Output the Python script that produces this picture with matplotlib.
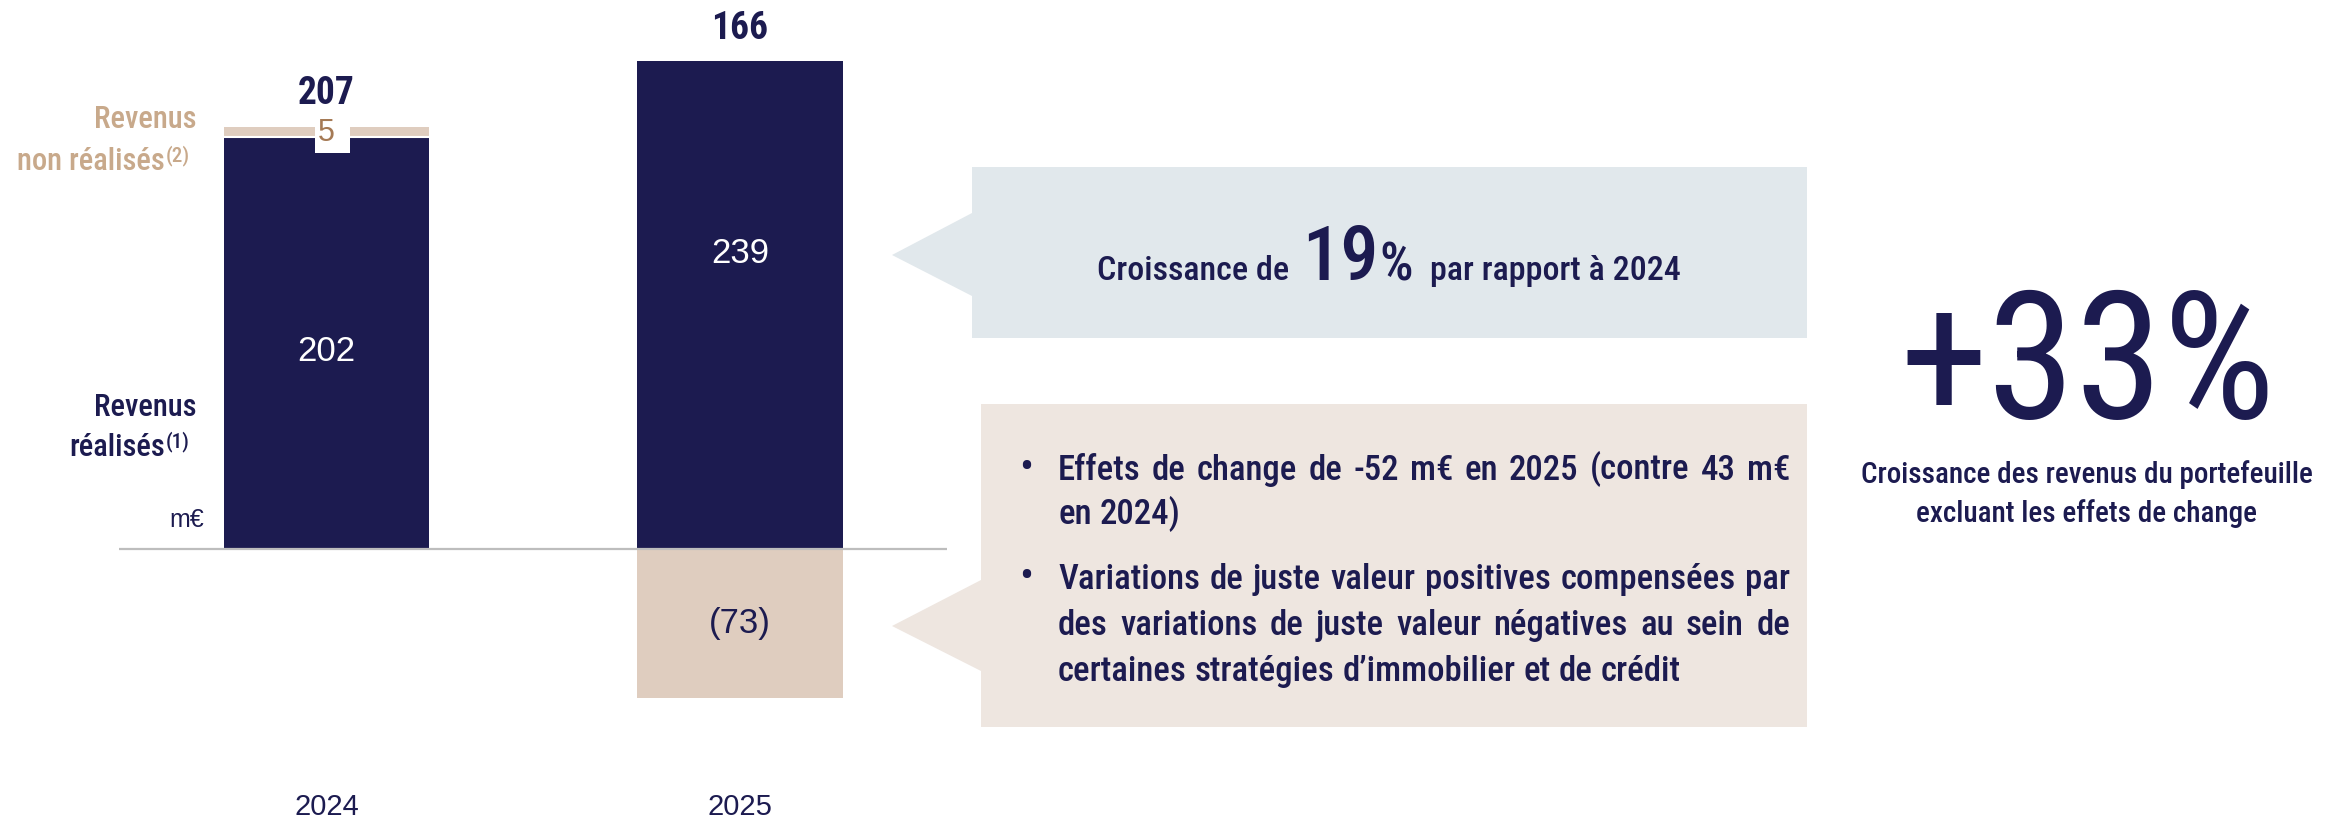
import matplotlib
matplotlib.use("Agg")
from matplotlib import pyplot as plt
from matplotlib.patches import Polygon, Rectangle

#~~~~~~~~~~~~~~~~~~~~~~~~~~~~~~~~~~~~~~~~~~~~~~~~~~~~~~~
# data (m€)
#~~~~~~~~~~~~~~~~~~~~~~~~~~~~~~~~~~~~~~~~~~~~~~~~~~~~~~~
years = ["2024", "2025"]
realized = [202, 239]
unrealized = [5, -73]
totals = [207, 166]

growth_vs_prev = "19"
growth_ex_fx = "+33%"
bullets = [
    ["Effets de change de -52 m€ en 2025 (contre 43 m€", "en 2024)"],
    ["Variations de juste valeur positives compensées par",
     "des variations de juste valeur négatives au sein de",
     "certaines stratégies d’immobilier et de crédit"],
]

#~~~~~~~~~~~~~~~~~~~~~~~~~~~~~~~~~~~~~~~~~~~~~~~~~~~~~~~
# style
#~~~~~~~~~~~~~~~~~~~~~~~~~~~~~~~~~~~~~~~~~~~~~~~~~~~~~~~
W, H = 2338, 821
NAVY = "#1c1b50"
TAN = "#dfcdbf"
TAN_TXT = "#c8a98b"
BROWN = "#a57a55"
BLUE_BOX = "#e1e8ec"
BEIGE_BOX = "#eee6e0"
COND = ["Roboto Condensed", "DejaVu Sans"]
SANS = ["Liberation Sans", "DejaVu Sans"]

fig = plt.figure(figsize=(W / 100, H / 100), dpi=100)
r = fig.canvas.get_renderer()


def fp(x, y):
    # pixel (from top-left) -> figure fraction
    return x / W, 1 - y / H


def ftext(x, y, s, **kw):
    fx, fy = fp(x, y)
    return fig.text(fx, fy, s, **kw)


def width(t):
    return t.get_window_extent(r).width


# axes: baseline at y=549 px, 2.04 px per m€, bars 413.5 px apart
ax_bottom = 790
ax = fig.add_axes([0, (H - ax_bottom) / H, 1, ax_bottom / H])
ax.set_xlim(-326.5 / 413.5, (W - 326.5) / 413.5)
ax.set_ylim(-(ax_bottom - 549) / 2.04, 549 / 2.04)
for s in ax.spines.values():
    s.set_visible(False)
ax.set_yticks([])
ax.set_xticks(range(len(years)), years)
ax.tick_params(axis="x", length=0, pad=2, labelsize=21, labelcolor=NAVY)
for lab in ax.get_xticklabels():
    lab.set_family(SANS)

x = list(range(len(years)))
bw = 0.496
ax.bar(x, realized, width=bw, color=NAVY, zorder=2)
bottoms = [rv if u > 0 else 0 for rv, u in zip(realized, unrealized)]
ax.bar(x, unrealized, width=bw, bottom=bottoms, color=TAN, zorder=2)
for i, u in enumerate(unrealized):
    if u > 0:
        ax.hlines(realized[i], i - bw / 2, i + bw / 2, color="white", lw=1.5, zorder=3)
ax.hlines(0, -0.502, 1.5, color="#bdbdbd", lw=1.6, zorder=4)

# value labels
for i, t in enumerate(totals):
    top = max(realized[i], realized[i] + unrealized[i])
    ax.annotate(str(t), (i, top), xytext=(0, 16), textcoords="offset points",
                ha="center", va="baseline", fontsize=27, fontweight="bold",
                family=COND, color=NAVY)

value_label_y = [97, 145]
for i, v in enumerate(realized):
    ax.text(i, value_label_y[i], str(v), ha="center", va="center",
            fontsize=25, family=SANS, color="white", zorder=5)

for i, u in enumerate(unrealized):
    if u > 0:
        ax.add_patch(Rectangle((i - 0.028, realized[i] - 8), 0.085, u + 8.4,
                               facecolor="white", edgecolor="none", zorder=4))
        ax.text(i, realized[i] + u / 2 - 0.8, str(u), ha="center", va="center",
                fontsize=22, family=SANS, color=BROWN, zorder=5)
    else:
        ax.text(i, u / 2, "(%d)" % -u, ha="center", va="center",
                fontsize=25, family=SANS, color=NAVY, zorder=5)

# series labels on the left
ftext(197, 127.6, "Revenus", ha="right", va="baseline", fontsize=22,
      fontweight="medium", family=COND, color=TAN_TXT)
ftext(165, 170, "non réalisés", ha="right", va="baseline", fontsize=22,
      fontweight="medium", family=COND, color=TAN_TXT)
ftext(166, 161, "(2)", ha="left", va="baseline", fontsize=15,
      fontweight="medium", family=COND, color=TAN_TXT)
ftext(197, 416, "Revenus", ha="right", va="baseline", fontsize=22,
      fontweight="medium", family=COND, color=NAVY)
ftext(165, 456, "réalisés", ha="right", va="baseline", fontsize=22,
      fontweight="medium", family=COND, color=NAVY)
ftext(166, 447, "(1)", ha="left", va="baseline", fontsize=15,
      fontweight="medium", family=COND, color=NAVY)
ftext(204, 527, "m€", ha="right", va="baseline", fontsize=18,
      family=SANS, color=NAVY)

# callout shapes
top_box = [(972, 167), (1807, 167), (1807, 338), (972, 338), (972, 296),
           (892, 255), (972, 213)]
bot_box = [(981, 404), (1807, 404), (1807, 727), (981, 727), (981, 671),
           (892, 626), (981, 580)]
for pts, col in [(top_box, BLUE_BOX), (bot_box, BEIGE_BOX)]:
    fig.patches.append(Polygon([fp(*p) for p in pts], closed=True,
                               transform=fig.transFigure, facecolor=col,
                               edgecolor="none", zorder=0))

# top callout text
pieces = [("Croissance de", 24.5, 0), (growth_vs_prev, 55, 13), ("%", 38, 1),
          ("par rapport à 2024", 24.5, 17)]
arts = []
for s, fs, gap in pieces:
    t = ftext(0, 280, s, ha="left", va="baseline", fontsize=fs,
              fontweight="medium", family=COND, color=NAVY)
    arts.append((t, gap))
total_w = sum(width(t) + g for t, g in arts)
xc = 1389 - total_w / 2
for t, g in arts:
    xc += g
    t.set_position(fp(xc, 280))
    xc += width(t)

# bullet text, justified
BFS = 25


def put_line(s, x0, x1, y, justify):
    words = s.split(" ")
    wa = [ftext(0, y, w, ha="left", va="baseline", fontsize=BFS,
                fontweight="medium", family=COND, color=NAVY) for w in words]
    ws = [width(a) for a in wa]
    t1 = ftext(0, 0, "a a", fontsize=BFS, fontweight="medium", family=COND)
    t2 = ftext(0, 0, "aa", fontsize=BFS, fontweight="medium", family=COND)
    space = width(t1) - width(t2)
    t1.remove()
    t2.remove()
    gap = space
    if justify and len(words) > 1:
        gap = (x1 - x0 - sum(ws)) / (len(words) - 1)
    xx = x0
    for a, w in zip(wa, ws):
        a.set_position(fp(xx, y))
        xx += w + gap


bullet_y = [[479.5, 523.6], [588.7, 634.7, 680.6]]
for lines, ys in zip(bullets, bullet_y):
    ftext(1026, ys[0], "•", ha="center", va="baseline", fontsize=30,
          family=COND, color=NAVY)
    for k, (s, y) in enumerate(zip(lines, ys)):
        put_line(s, 1058, 1790, y, k < len(lines) - 1)

# big figure on the right
ftext(2088, 418, growth_ex_fx, ha="center", va="baseline", fontsize=128,
      family=COND, color=NAVY)
ftext(2087, 483, "Croissance des revenus du portefeuille", ha="center",
      va="baseline", fontsize=21, fontweight="medium", family=COND, color=NAVY)
ftext(2087, 522, "excluant les effets de change", ha="center",
      va="baseline", fontsize=21, fontweight="medium", family=COND, color=NAVY)

fig.savefig("out.png", dpi=100)
